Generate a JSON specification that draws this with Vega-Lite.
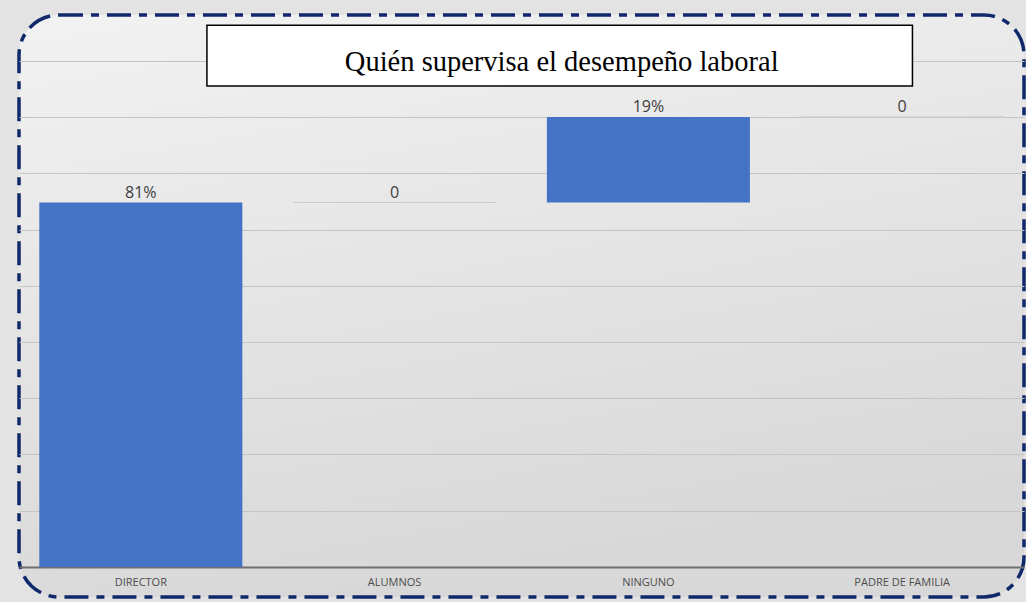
{
  "$schema": "https://vega.github.io/schema/vega-lite/v6.json",
  "width": 1005,
  "height": 582,
  "autosize": "none",
  "padding": {"left": 19, "top": 15, "right": 2, "bottom": 5},
  "background": "#e3e3e3",
  "config": {
    "view": {
      "stroke": "#10296a",
      "strokeWidth": 3.5,
      "strokeDash": [24, 8, 8, 8],
      "cornerRadius": 40,
      "fill": {"gradient": "linear", "x1": 0, "y1": 0, "x2": 0.3, "y2": 1, "stops": [{"offset": 0, "color": "#f2f2f2"}, {"offset": 1, "color": "#d8d8d8"}]}
    }
  },
  "resolve": {"scale": {"x": "independent"}},
  "layer": [
    {
      "data": {"values": [
        {"cat": "DIRECTOR", "start": 0, "end": 81, "label": "81%"},
        {"cat": "ALUMNOS", "start": 81, "end": 81, "label": "0"},
        {"cat": "NINGUNO", "start": 81, "end": 100, "label": "19%"},
        {"cat": "PADRE DE FAMILIA", "start": 100, "end": 100, "label": "0"}
      ]},
      "layer": [
        {
          "mark": {"type": "bar", "fill": "#4472c4", "strokeWidth": 1},
          "encoding": {
            "x": {"field": "cat", "type": "nominal", "sort": null,
              "scale": {"paddingInner": 0.2, "paddingOuter": 0.08},
              "axis": {"title": null, "offset": -30, "ticks": false, "labelPadding": 9, "labelAngle": 0,
                "domainColor": "#6f6f6f", "domainWidth": 2, "labelColor": "#4d4d4d",
                "labelFont": "Open Sans", "labelFontSize": 11, "grid": false}},
            "y": {"field": "start", "type": "quantitative",
              "scale": {"domain": [-6.667, 122.667], "nice": false, "zero": false},
              "axis": {"title": null, "labels": false, "ticks": false, "domain": false, "grid": true,
                "values": [12.5, 25, 37.5, 50, 62.5, 75, 87.5, 100, 112.5],
                "gridColor": "#c4c4c4", "gridWidth": 1}},
            "y2": {"field": "end"},
            "stroke": {"condition": {"test": "datum.start == datum.end", "value": "#c9ccd2"}, "value": "transparent"}
          }
        },
        {
          "mark": {"type": "text", "baseline": "bottom", "dy": -2, "font": "Open Sans", "fontSize": 16, "color": "#404040"},
          "encoding": {
            "x": {"field": "cat", "type": "nominal", "sort": null},
            "y": {"field": "end", "type": "quantitative",
              "scale": {"domain": [-6.667, 122.667], "nice": false, "zero": false}},
            "text": {"field": "label"}
          }
        }
      ]
    },
    {
      "data": {"values": [
        {"x1": 18.7, "x2": 88.9, "y1": 106.9, "y2": 120.4, "tx": 54.0, "ty": 110.2, "title": "Quién supervisa el desempeño laboral"}
      ]},
      "layer": [
        {
          "mark": {"type": "rect", "fill": "#ffffff", "stroke": "#000000", "strokeWidth": 1.5},
          "encoding": {
            "x": {"field": "x1", "type": "quantitative", "scale": {"domain": [0, 100], "nice": false}, "axis": null},
            "x2": {"field": "x2"},
            "y": {"field": "y1", "type": "quantitative",
              "scale": {"domain": [-6.667, 122.667], "nice": false, "zero": false}},
            "y2": {"field": "y2"}
          }
        },
        {
          "mark": {"type": "text", "align": "center", "baseline": "alphabetic", "font": "Liberation Serif", "fontSize": 28.5, "color": "#000000"},
          "encoding": {
            "x": {"field": "tx", "type": "quantitative", "scale": {"domain": [0, 100], "nice": false}, "axis": null},
            "y": {"field": "ty", "type": "quantitative",
              "scale": {"domain": [-6.667, 122.667], "nice": false, "zero": false}},
            "text": {"field": "title"}
          }
        }
      ]
    }
  ]
}
